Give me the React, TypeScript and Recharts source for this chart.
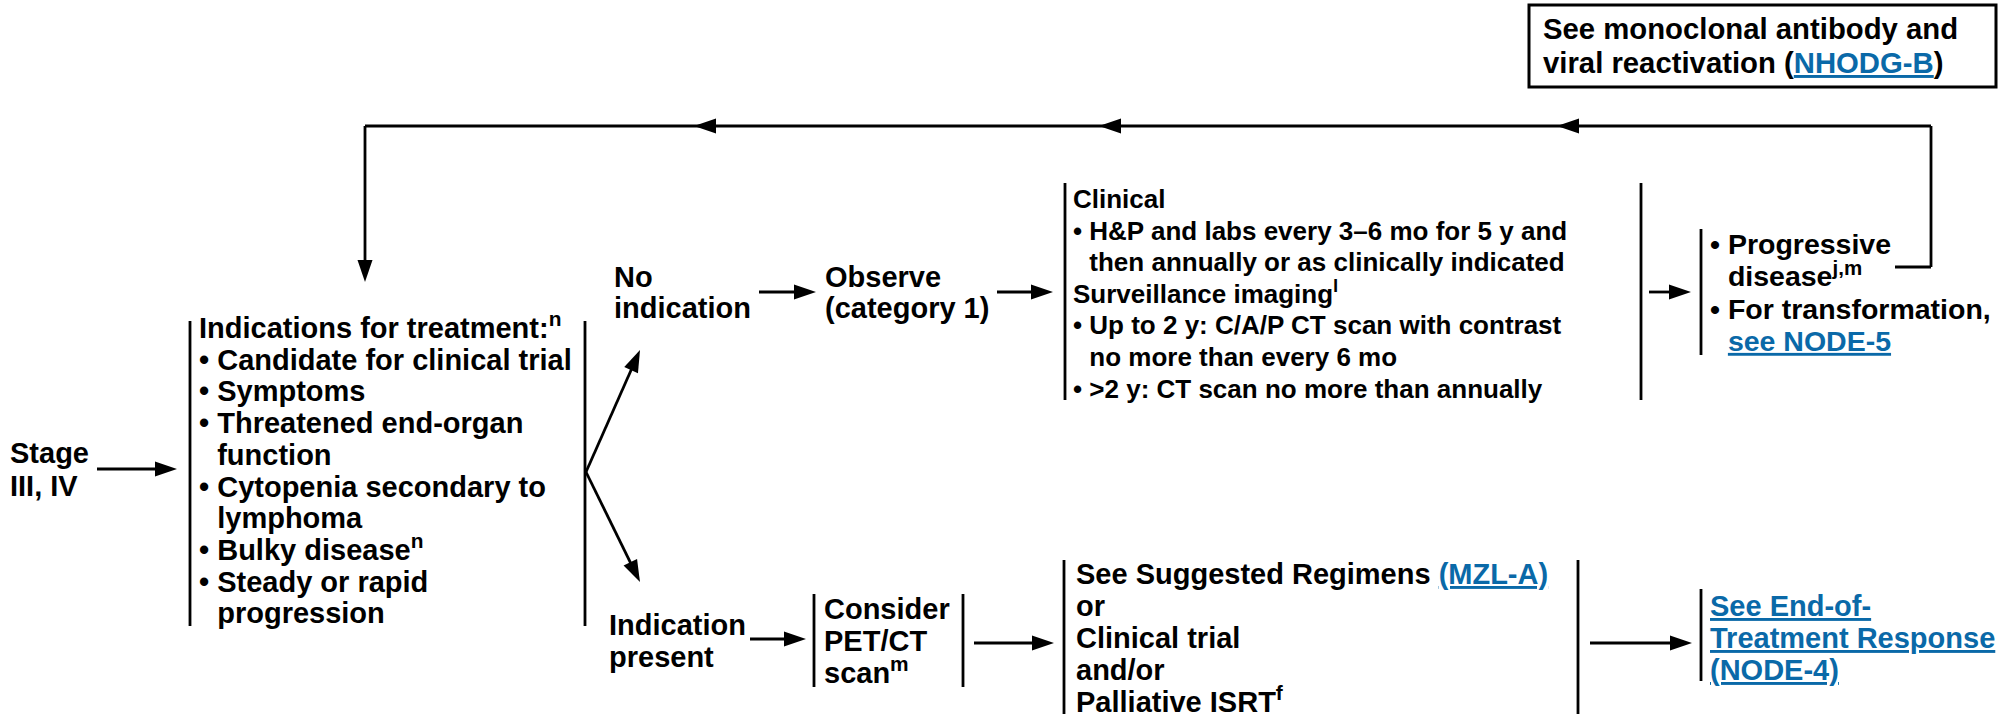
import React from 'react'
import { ScatterChart, Scatter, XAxis, YAxis, ReferenceLine, ReferenceArea } from 'recharts'

const W = 2015
const H = 714
const FONT = '"Liberation Sans", Arial, Helvetica, sans-serif'
const INK = '#000000'
const LINK = '#0A69A8'
const STROKE = 2.8

// text of each node; "^{..}" is a superscript, "[..]" a link, "• " a bullet, two spaces a hanging indent
const stageText: string[] = ['Stage', 'III, IV']
const indicationText: string[] = [
    'Indications for treatment:^{n}',
    '• Candidate for clinical trial',
    '• Symptoms',
    '• Threatened end-organ',
    '  function',
    '• Cytopenia secondary to',
    '  lymphoma',
    '• Bulky disease^{n}',
    '• Steady or rapid',
    '  progression',
]
const noIndicationText: string[] = ['No', 'indication']
const observeText: string[] = ['Observe', '(category 1)']
const surveillanceText: string[] = [
    'Clinical',
    '• H&P and labs every 3–6 mo for 5 y and',
    '  then annually or as clinically indicated',
    'Surveillance imaging^{l}',
    '• Up to 2 y: C/A/P CT scan with contrast',
    '  no more than every 6 mo',
    '• >2 y: CT scan no more than annually',
]
const progressionText: string[] = ['• Progressive', '  disease^{j,m}', '• For transformation,', '  [see NODE-5]']
const indicationPresentText: string[] = ['Indication', 'present']
const petText: string[] = ['Consider', 'PET/CT', 'scan^{m}']
const regimenText: string[] = ['See Suggested Regimens [(MZL-A)]', 'or', 'Clinical trial', 'and/or', 'Palliative ISRT^{f}']
const responseText: string[] = ['[See End-of-]', '[Treatment Response]', '[(NODE-4)]']
const antibodyText: string[] = ['See monoclonal antibody and', 'viral reactivation ([NHODG-B])']

interface IBlock {
    x: number,
    y: number,
    size: number,
    gap: number,
    lines: string[]
}

interface IRun {
    text: string,
    sup?: boolean,
    link?: boolean
}

// where each node sits (left edge, first baseline)
const blocks: IBlock[] = [
    { x: 10, y: 463, size: 29, gap: 33, lines: stageText },
    { x: 199, y: 338, size: 29, gap: 31.7, lines: indicationText },
    { x: 614, y: 287, size: 29, gap: 31, lines: noIndicationText },
    { x: 825, y: 287, size: 29, gap: 31, lines: observeText },
    { x: 1073, y: 208, size: 26, gap: 31.6, lines: surveillanceText },
    { x: 1710, y: 254, size: 28.5, gap: 32.3, lines: progressionText },
    { x: 609, y: 635, size: 29, gap: 31.5, lines: indicationPresentText },
    { x: 824, y: 619, size: 29, gap: 32, lines: petText },
    { x: 1076, y: 584, size: 29, gap: 32, lines: regimenText },
    { x: 1710, y: 616, size: 29, gap: 32, lines: responseText },
    { x: 1543, y: 39, size: 29.3, gap: 34, lines: antibodyText },
]

// plain connector lines and the brackets beside each node
const segments: number[][] = [
    [365, 126, 1931, 126],
    [1931, 126, 1931, 267],
    [1895, 267, 1931, 267],
    [190, 321, 190, 626],
    [585, 321, 585, 626],
    [1065, 183, 1065, 400],
    [1641, 183, 1641, 400],
    [1701, 229, 1701, 355],
    [814, 594, 814, 687],
    [963, 594, 963, 687],
    [1064, 560, 1064, 714],
    [1578, 560, 1578, 714],
    [1701, 589, 1701, 681],
]

// arrows: from -> tip
const arrows: number[][] = [
    [97, 469, 177, 469],
    [586, 472, 640, 350],
    [586, 472, 640, 582],
    [759, 292, 816, 292],
    [997, 292, 1053, 292],
    [1649, 292, 1691, 292],
    [750, 639, 806, 639],
    [974, 643, 1054, 643],
    [1590, 643, 1692, 643],
    [365, 126, 365, 282],
]

// arrow heads sitting on the return line, pointing left
const returnHeads: number[] = [694, 1099, 1557]

const HEAD_LEN = 22
const HEAD_HALF = 7.5

const parseLine = (line: string): IRun[] =>
    line.split(/(\^\{[^}]*\}|\[[^\]]*\])/).filter(Boolean).map(part => {
        if (part.startsWith('^{')) return { text: part.slice(2, -1), sup: true }
        if (part.startsWith('[')) return { text: part.slice(1, -1), link: true }
        return { text: part }
    })

const TextBlock = (props: any) => {
    const { cx, cy, payload } = props
    const { size, gap, lines } = payload as IBlock
    const indent = size * 0.628
    const rise = size * 0.4
    return (
        <g fontFamily={FONT} fontWeight="bold" fontSize={size}>
            {lines.map((line, i) => {
                let body = line
                let dx = 0
                const bullet = line.startsWith('• ')
                if (bullet || line.startsWith('  ')) {
                    body = line.slice(2)
                    dx = indent
                }
                const y = cy + i * gap
                let raised = false
                return (
                    <g key={i}>
                        {bullet && <text x={cx} y={y} fill={INK}>•</text>}
                        <text x={cx + dx} y={y} fill={INK} style={{ whiteSpace: 'pre' }}>
                            {parseLine(body).map((r, j) => {
                                let shift = 0
                                if (r.sup && !raised) { shift = -rise; raised = true }
                                else if (!r.sup && raised) { shift = rise; raised = false }
                                return (
                                    <tspan
                                        key={j}
                                        dy={shift}
                                        fontSize={r.sup ? size * 0.72 : size}
                                        fill={r.link ? LINK : INK}
                                        style={r.link ? { textDecoration: 'underline' } : undefined}
                                    >
                                        {r.text}
                                    </tspan>
                                )
                            })}
                        </text>
                    </g>
                )
            })}
        </g>
    )
}

const ArrowHead = (props: any) => {
    const { cx, cy, payload } = props
    return (
        <polygon
            points={`0,0 ${-HEAD_LEN},${-HEAD_HALF} ${-HEAD_LEN},${HEAD_HALF}`}
            transform={`translate(${cx},${cy}) rotate(${payload.angle})`}
            fill={INK}
        />
    )
}

const App: React.FunctionComponent = () => {
    const heads = [
        ...arrows.map(([x1, y1, x2, y2]) => ({ x: x2, y: y2, angle: Math.atan2(y2 - y1, x2 - x1) * 180 / Math.PI })),
        ...returnHeads.map(x => ({ x, y: 126, angle: 180 })),
    ]
    const shafts = arrows.map(([x1, y1, x2, y2]) => {
        const a = Math.atan2(y2 - y1, x2 - x1)
        return [x1, y1, x2 - Math.cos(a) * (HEAD_LEN - 2), y2 - Math.sin(a) * (HEAD_LEN - 2)]
    })

    return (
        <div style={{ position: 'absolute', left: 0, top: 0, width: W, height: H, background: '#fff' }}>
            <ScatterChart width={W} height={H} margin={{ top: 0, right: 0, bottom: 0, left: 0 }}>
                <XAxis type="number" dataKey="x" domain={[0, W]} hide allowDataOverflow />
                <YAxis type="number" dataKey="y" domain={[0, H]} reversed hide allowDataOverflow />
                <ReferenceArea
                    x1={1529} x2={1996} y1={5} y2={87}
                    fill="#fff" fillOpacity={0} stroke={INK} strokeWidth={3} ifOverflow="visible"
                />
                {[...segments, ...shafts].map(([x1, y1, x2, y2], i) => (
                    <ReferenceLine
                        key={`seg-${i}`}
                        segment={[{ x: x1, y: y1 }, { x: x2, y: y2 }]}
                        stroke={INK}
                        strokeWidth={STROKE}
                        ifOverflow="visible"
                    />
                ))}
                <Scatter data={heads} shape={ArrowHead} isAnimationActive={false} />
                <Scatter data={blocks} shape={TextBlock} isAnimationActive={false} />
            </ScatterChart>
        </div>
    )
}

export default App
